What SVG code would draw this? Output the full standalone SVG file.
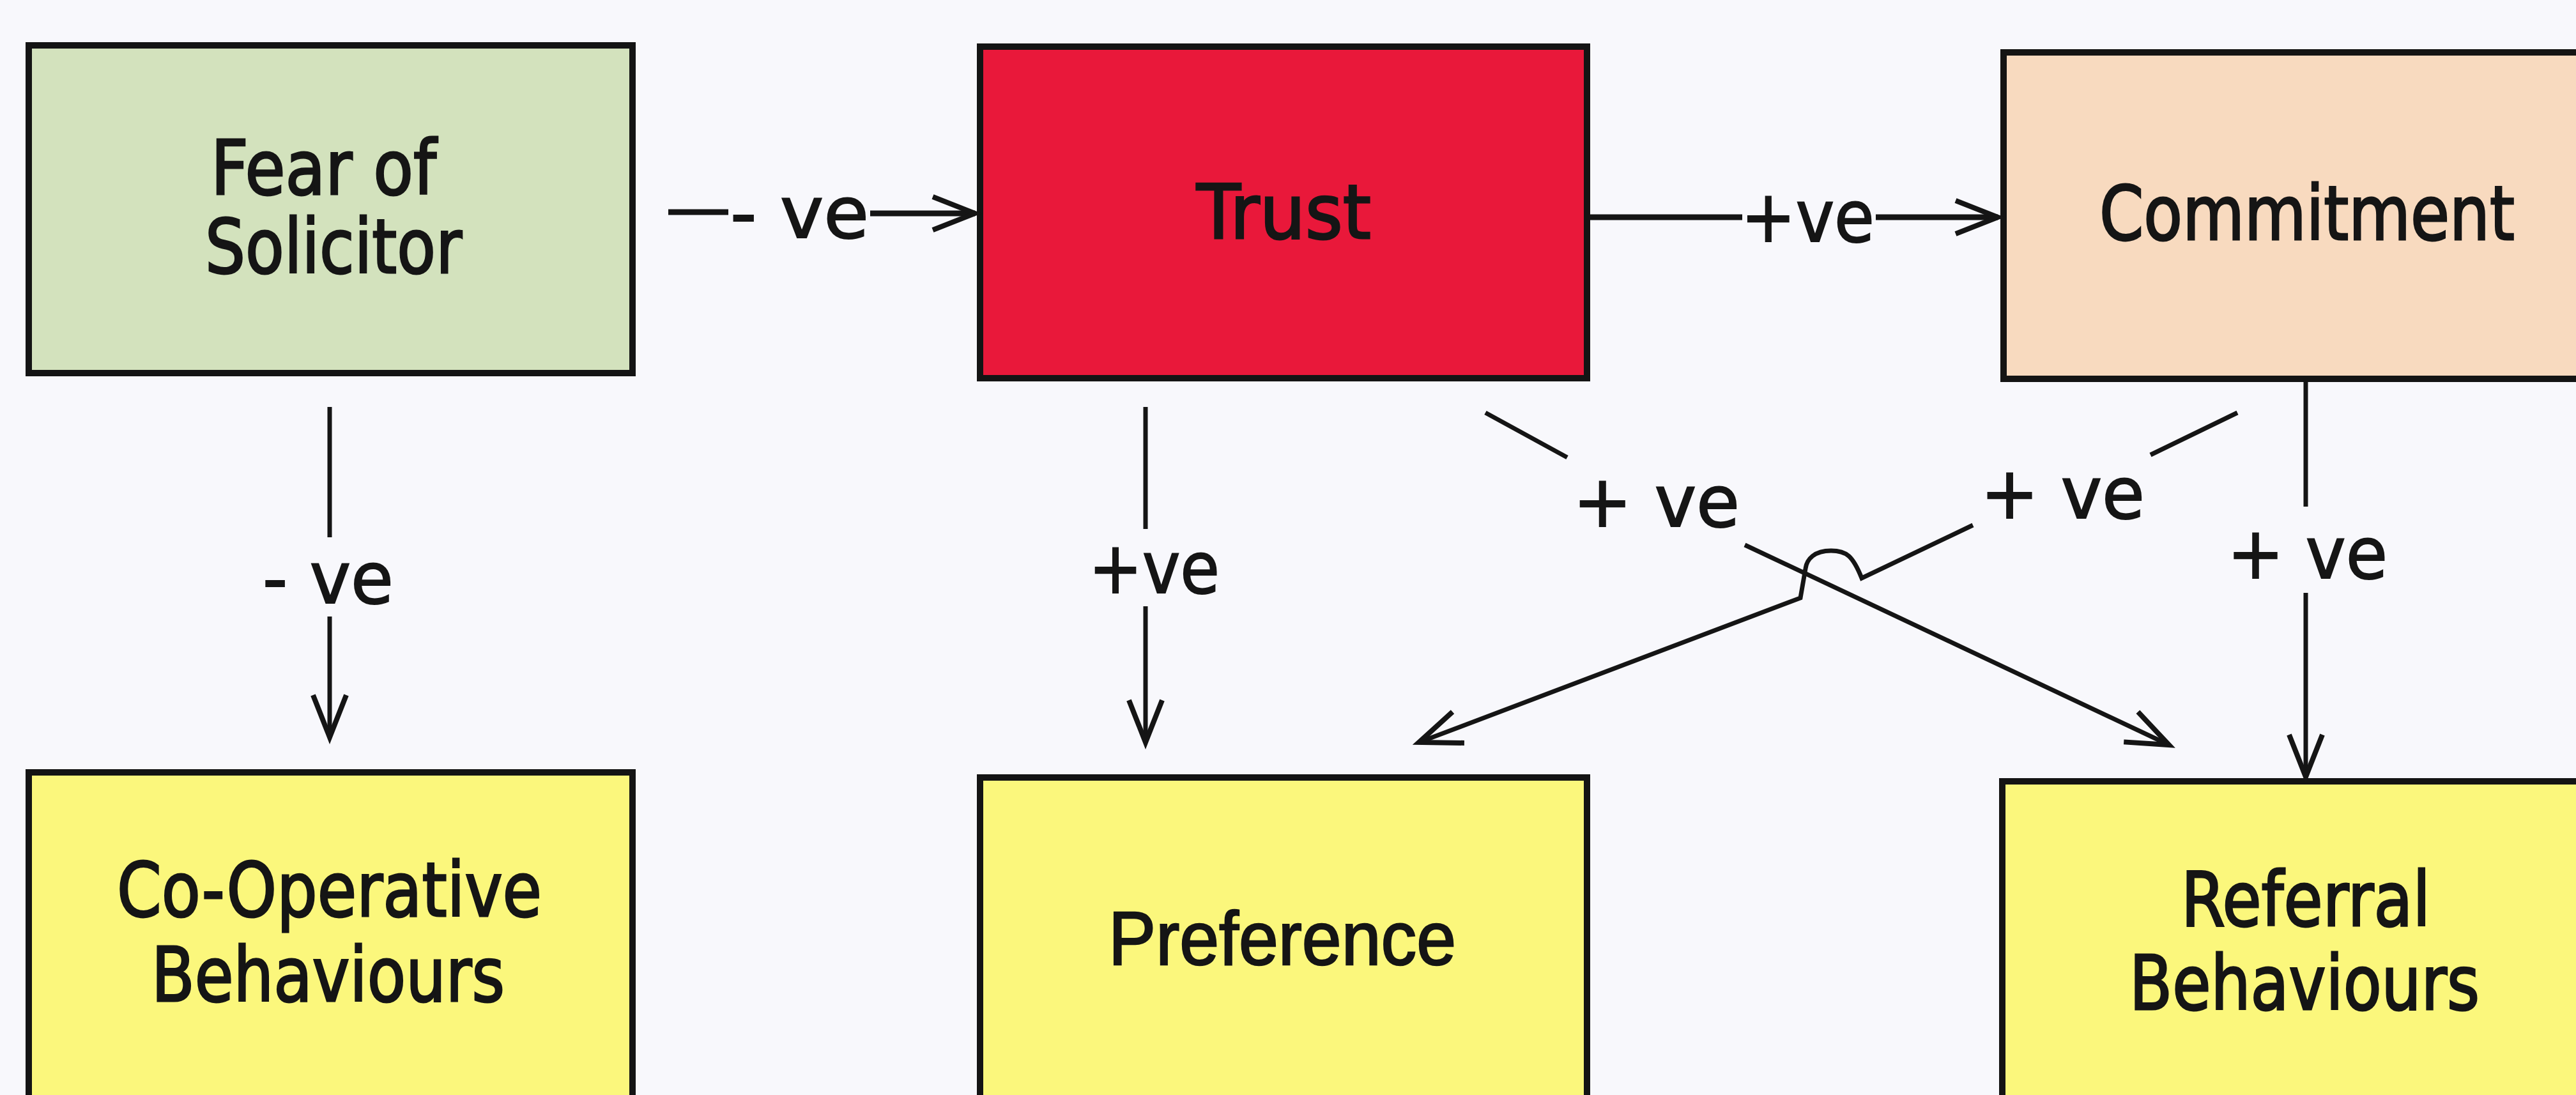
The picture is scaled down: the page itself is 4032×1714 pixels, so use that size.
<svg xmlns="http://www.w3.org/2000/svg" width="4032" height="1714" viewBox="0 0 4032 1714">
<defs>
<style>
.box{stroke:#141414;stroke-width:10}
.nt{font-family:"DejaVu Sans","Liberation Sans",sans-serif;font-size:118px;fill:#151515;stroke:#151515;stroke-width:3}
.ar{font-family:"Liberation Sans",Arial,sans-serif;font-size:118px;fill:#151515;stroke:#151515;stroke-width:2.5}
.lb{font-family:"DejaVu Sans","Liberation Sans",sans-serif;font-size:112px;fill:#151515;stroke:#151515;stroke-width:2}
.c{fill:none;stroke:#151515;stroke-width:9}
.ct{fill:none;stroke:#151515;stroke-width:7}
</style>
<marker id="arr" markerUnits="userSpaceOnUse" markerWidth="10" markerHeight="10" refX="0" refY="0" orient="auto" style="overflow:visible">
<path d="M-66,-26 L0,0 L-66,26" fill="none" stroke="#151515" stroke-width="8" stroke-linejoin="miter"/>
</marker>
</defs>
<rect width="4032" height="1714" fill="#f8f8fc"/>

<g id="fear">
<rect class="box" x="45" y="71" width="945" height="513" fill="#d3e2bd"/>
<text class="nt" x="330" y="304" textLength="353" lengthAdjust="spacingAndGlyphs">Fear of</text>
<text class="nt" x="321" y="427" textLength="402" lengthAdjust="spacingAndGlyphs">Solicitor</text>
</g>
<g id="trust">
<rect class="box" x="1534" y="73" width="950" height="519" fill="#e9183a"/>
<text class="nt" x="1873" y="373" textLength="273" lengthAdjust="spacingAndGlyphs">Trust</text>
</g>
<g id="commitment">
<rect class="box" x="3136" y="82" width="1000" height="511" fill="#f8dabf"/>
<text class="nt" x="3286" y="375" textLength="650" lengthAdjust="spacingAndGlyphs">Commitment</text>
</g>
<g id="cooperative">
<rect class="box" x="45" y="1209" width="945" height="600" fill="#fbf77c"/>
<text class="nt" x="183" y="1434" textLength="665" lengthAdjust="spacingAndGlyphs">Co-Operative</text>
<text class="nt" x="237" y="1567" textLength="553" lengthAdjust="spacingAndGlyphs">Behaviours</text>
</g>
<g id="preference">
<rect class="box" x="1534" y="1217" width="950" height="600" fill="#fbf77c"/>
<text class="ar" x="1735" y="1510" textLength="544" lengthAdjust="spacingAndGlyphs">Preference</text>
</g>
<g id="referral">
<rect class="box" x="3134" y="1223" width="1000" height="600" fill="#fbf77c"/>
<text class="nt" x="3414" y="1449" textLength="390" lengthAdjust="spacingAndGlyphs">Referral</text>
<text class="nt" x="3333" y="1580" textLength="548" lengthAdjust="spacingAndGlyphs">Behaviours</text>
</g>

<g id="connectors">
<line class="c" x1="1046" y1="332" x2="1140" y2="332"/>
<line class="c" x1="1362" y1="334" x2="1526" y2="334" marker-end="url(#arr)"/>
<line class="c" x1="2489" y1="340" x2="2727" y2="340"/>
<line class="c" x1="2936" y1="340" x2="3127" y2="340" marker-end="url(#arr)"/>
<line class="ct" x1="516" y1="637" x2="516" y2="841"/>
<line class="ct" x1="516" y1="965" x2="516" y2="1154" marker-end="url(#arr)"/>
<line class="ct" x1="1793" y1="637" x2="1793" y2="828"/>
<line class="ct" x1="1793" y1="949" x2="1793" y2="1162" marker-end="url(#arr)"/>
<line class="ct" x1="3609" y1="598" x2="3609" y2="793"/>
<line class="ct" x1="3609" y1="928" x2="3609" y2="1216" marker-end="url(#arr)"/>
<line class="ct" x1="2325" y1="646" x2="2453" y2="716"/>
<line class="ct" x1="2731" y1="853" x2="3395" y2="1166" marker-end="url(#arr)"/>
<line class="ct" x1="3502" y1="646" x2="3366" y2="712"/>
<path class="ct" d="M3088,822 L2914,905 C2900,870 2890,862 2866,862 C2840,862 2828,875 2826,890 L2818,936 L2221,1162" marker-end="url(#arr)"/>
<text class="lb" x="1143" y="372" textLength="217" lengthAdjust="spacingAndGlyphs">- ve</text>
<text class="lb" x="2725" y="378" textLength="209" lengthAdjust="spacingAndGlyphs">+ve</text>
<text class="lb" x="411" y="944" textLength="205" lengthAdjust="spacingAndGlyphs">- ve</text>
<text class="lb" x="1704" y="928" textLength="205" lengthAdjust="spacingAndGlyphs">+ve</text>
<text class="lb" x="2462" y="824" textLength="261" lengthAdjust="spacingAndGlyphs">+ ve</text>
<text class="lb" x="3100" y="811" textLength="257" lengthAdjust="spacingAndGlyphs">+ ve</text>
<text class="lb" x="3486" y="905" textLength="251" lengthAdjust="spacingAndGlyphs">+ ve</text>
</g>
</svg>
